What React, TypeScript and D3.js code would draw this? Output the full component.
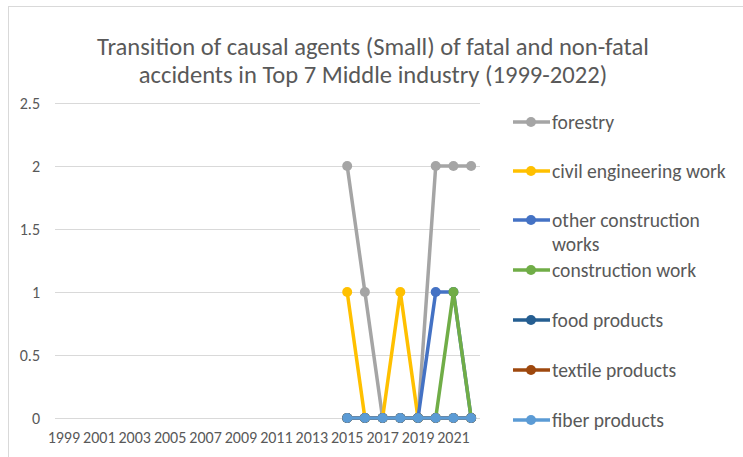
import React, { useEffect, useRef } from "react";
import * as d3 from "d3";

const years = d3.range(1999, 2023).map(String);
const yTicks = [0, 0.5, 1, 1.5, 2, 2.5];

// values from 1999 to 2022, null where nothing is plotted
const pad = Array(16).fill(null);
const forestry = [...pad, 2, 1, 0, 0, 0, 2, 2, 2];
const civilEngineering = [...pad, 1, 0, 0, 1, 0, 0, 0, 0];
const otherConstruction = [...pad, 0, 0, 0, 0, 0, 1, 1, 0];
const constructionWork = [...pad, 0, 0, 0, 0, 0, 0, 1, 0];
const foodProducts = [...pad, 0, 0, 0, 0, 0, 0, 0, 0];
const textileProducts = [...pad, 0, 0, 0, 0, 0, 0, 0, 0];
const fiberProducts = [...pad, 0, 0, 0, 0, 0, 0, 0, 0];

const seriesNames = [
  "forestry",
  "civil engineering work",
  "other construction works",
  "construction work",
  "food products",
  "textile products",
  "fiber products",
];
const seriesValues = [
  forestry,
  civilEngineering,
  otherConstruction,
  constructionWork,
  foodProducts,
  textileProducts,
  fiberProducts,
];
const colors = ["#A5A5A5", "#FFC000", "#4472C4", "#70AD47", "#255E91", "#9E480E", "#5B9BD5"];

const W = 743;
const H = 457;
const plot = { left: 55, right: 480, top: 103, bottom: 418 };
const font = "Calibri, Carlito, 'Liberation Sans', sans-serif";

const App = () => {
  const ref = useRef<SVGSVGElement>(null);
  useEffect(() => {
    const svg = d3.select(ref.current);
    svg.selectAll("*").remove();

    svg
      .append("rect")
      .attr("x", 8.5)
      .attr("y", 6.5)
      .attr("width", W)
      .attr("height", H)
      .attr("fill", "#fff")
      .attr("stroke", "#d9d9d9");

    const x = d3.scaleBand().domain(years).range([plot.left, plot.right]);
    const y = d3.scaleLinear().domain([0, 2.5]).range([plot.bottom, plot.top]);

    // title
    const title = svg
      .append("text")
      .attr("text-anchor", "middle")
      .attr("fill", "#595959")
      .style("font-family", font)
      .style("font-size", "24.6px");
    title.append("tspan").attr("x", 373).attr("y", 55).text("Transition of causal agents (Small) of fatal and non-fatal");
    title.append("tspan").attr("x", 373).attr("y", 83).text("accidents in Top 7 Middle industry (1999-2022)");

    // grid
    svg
      .selectAll(".grid")
      .data(yTicks)
      .enter()
      .append("line")
      .attr("x1", plot.left)
      .attr("x2", plot.right)
      .attr("y1", (d) => Math.round(y(d)) + 0.5)
      .attr("y2", (d) => Math.round(y(d)) + 0.5)
      .attr("stroke", "#d9d9d9")
      .attr("stroke-width", 1);

    svg
      .selectAll(".ylab")
      .data(yTicks)
      .enter()
      .append("text")
      .attr("x", 40)
      .attr("y", (d) => y(d) + 5.5)
      .attr("text-anchor", "end")
      .attr("fill", "#595959")
      .style("font-family", font)
      .style("font-size", "16px")
      .text((d) => String(d));

    svg
      .selectAll(".xlab")
      .data(years.filter((_, i) => i % 2 === 0))
      .enter()
      .append("text")
      .attr("x", (d) => (x(d) as number) + x.bandwidth() / 2)
      .attr("y", 443)
      .attr("text-anchor", "middle")
      .attr("fill", "#595959")
      .style("font-family", font)
      .style("font-size", "16px")
      .text((d) => d);

    const line = d3
      .line<number | null>()
      .defined((d) => d !== null)
      .x((_, i) => (x(years[i]) as number) + x.bandwidth() / 2)
      .y((d) => y(d as number));

    seriesValues.forEach((vals, si) => {
      const g = svg.append("g");
      g.append("path")
        .attr("d", line(vals))
        .attr("fill", "none")
        .attr("stroke", colors[si])
        .attr("stroke-width", 3.5)
        .attr("stroke-linejoin", "round");
      g.selectAll("circle")
        .data(vals.map((v, i) => ({ v, i })).filter((d) => d.v !== null))
        .enter()
        .append("circle")
        .attr("cx", (d) => (x(years[d.i]) as number) + x.bandwidth() / 2)
        .attr("cy", (d) => y(d.v as number))
        .attr("r", 5)
        .attr("fill", colors[si]);
    });

    // legend
    const legendY = [122, 171, 220, 270, 320, 370, 420];
    seriesNames.forEach((name, i) => {
      const g = svg.append("g").attr("transform", `translate(0,${legendY[i]})`);
      g.append("line")
        .attr("x1", 513)
        .attr("x2", 550)
        .attr("stroke", colors[i])
        .attr("stroke-width", 3.5);
      g.append("circle").attr("cx", 531).attr("r", 5).attr("fill", colors[i]);
      const t = g
        .append("text")
        .attr("fill", "#595959")
        .style("font-family", font)
        .style("font-size", "19.6px");
      if (name === "other construction works") {
        t.append("tspan").attr("x", 552).attr("y", 7).text("other construction");
        t.append("tspan").attr("x", 552).attr("y", 31).text("works");
      } else {
        t.attr("x", 552).attr("y", 7).text(name);
      }
    });
  }, []);
  return <svg ref={ref} width={W} height={H} style={{ position: "absolute", left: 0, top: 0 }} />;
};

export default App;
